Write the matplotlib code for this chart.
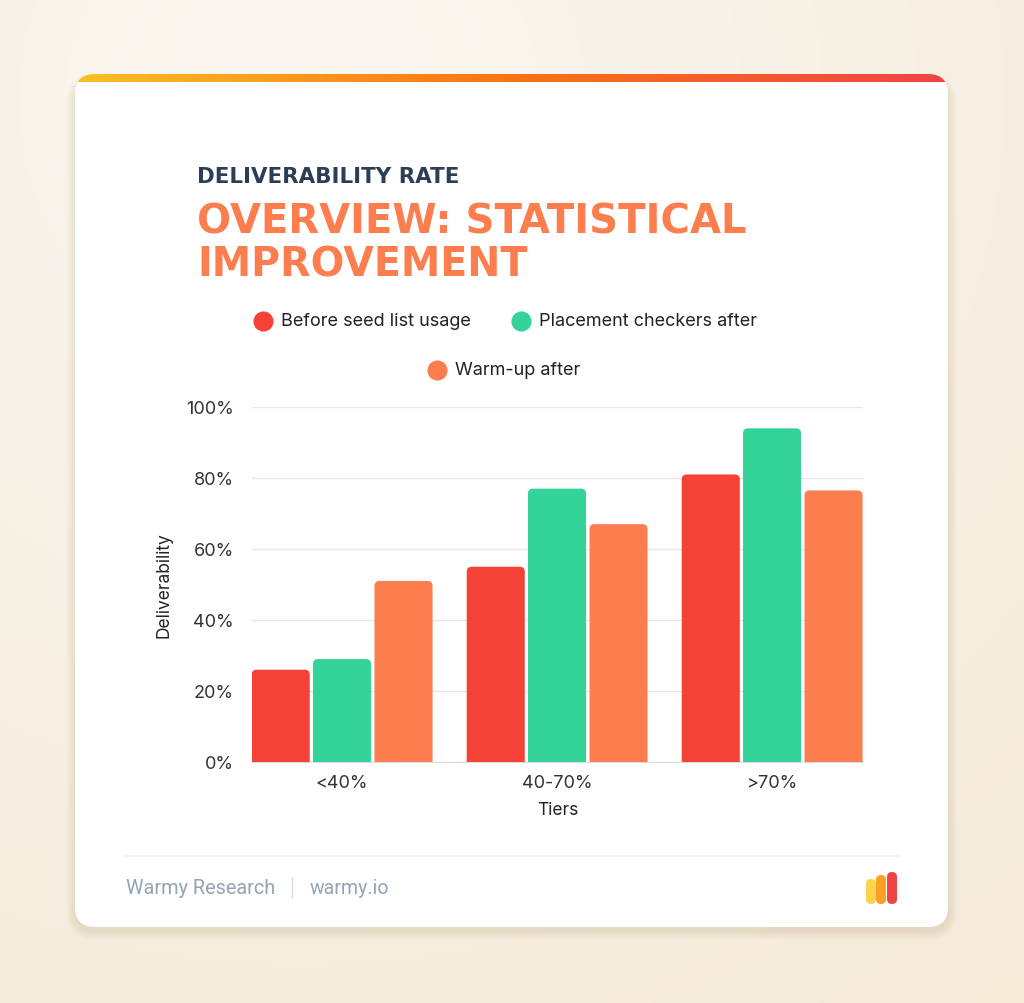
import numpy as np
import matplotlib
matplotlib.use("Agg")
import matplotlib.pyplot as plt
from matplotlib.patches import FancyBboxPatch, PathPatch
from matplotlib.path import Path

# data
tiers = ["<40%", "40-70%", ">70%"]
series_names = ["Before seed list usage", "Placement checkers after", "Warm-up after"]
before_seed = [26, 55, 81]
placement_after = [29, 77, 94]
warmup_after = [51, 67, 76.5]
series_values = [before_seed, placement_after, warmup_after]
series_colors = ["#F44336", "#34D399", "#FC7E4F"]
y_ticks = [0, 20, 40, 60, 80, 100]

W, H = 1024, 1004
fig = plt.figure(figsize=(W / 100, H / 100), dpi=100)

# background layer in pixel coordinates
bg = fig.add_axes([0, 0, 1, 1], zorder=0)
bg.set_xlim(0, W)
bg.set_ylim(H, 0)
bg.axis("off")

yy, xx = np.mgrid[0:H:4, 0:W:4]
d = np.sqrt(((xx - 300) / W) ** 2 + ((yy - 100) / H) ** 2)
t = np.clip(d / 1.2, 0, 1)
c0 = np.array([250, 247, 241]) / 255
c1 = np.array([245, 233, 215]) / 255
img = c0[None, None, :] * (1 - t[..., None]) + c1[None, None, :] * t[..., None]
bg.imshow(img, extent=(0, W, H, 0), aspect="auto", zorder=0)

# card shadow
for k in range(10):
    sh = FancyBboxPatch((75 - k, 80 - k + 4), 873 + 2 * k, 848 + 2 * k,
                        boxstyle="round,pad=0,rounding_size=%d" % (20 + k),
                        facecolor="#B89A6A", edgecolor="none", alpha=0.018, zorder=1)
    bg.add_patch(sh)

card = FancyBboxPatch((75, 75), 873, 853, boxstyle="round,pad=0,rounding_size=20",
                      facecolor="white", edgecolor="none", zorder=2)
bg.add_patch(card)

# gradient strip at top of card
grad = np.linspace(0, 1, 256)[None, :]
cm = matplotlib.colors.LinearSegmentedColormap.from_list("warm", ["#FBBF24", "#F97316", "#EF4444"])
strip = bg.imshow(grad, cmap=cm, extent=(75, 948, 83, 75), aspect="auto", zorder=3)
strip.set_clip_path(card)
bg.set_xlim(0, W)
bg.set_ylim(H, 0)

title_font = "DejaVu Sans"
body_font = ["Inter", "DejaVu Sans"]


def fit_text(x, y, s, width, **kw):
    txt = bg.text(x, y, s, **kw)
    r = fig.canvas.get_renderer()
    ext = txt.get_window_extent(r)
    txt.set_fontsize(txt.get_fontsize() * width / ext.width)
    return txt


fit_text(197, 183, "DELIVERABILITY RATE", 262, fontsize=18, fontweight="heavy",
         family=title_font, color="#2C3E55", va="baseline", ha="left", zorder=5)
fit_text(197, 233, "OVERVIEW: STATISTICAL", 550, fontsize=33, fontweight="heavy",
         family=title_font, color="#FC7E4F", va="baseline", ha="left", zorder=5)
fit_text(197, 277, "IMPROVEMENT", 332, fontsize=33, fontweight="heavy",
         family=title_font, color="#FC7E4F", va="baseline", ha="left", zorder=5)

# legend (manual, two rows centred)
legend_pos = [(263, 322), (521, 322), (437, 371)]
for (lx, ly), name, col in zip(legend_pos, series_names, series_colors):
    bg.plot(lx, ly, "o", ms=13.5, color=col, zorder=5)
    bg.text(lx + 18, ly, name, fontsize=13, family=body_font, color="#222222",
            va="center", ha="left", zorder=5)

# footer
foot_font = ["Roboto", "DejaVu Sans"]
bg.plot([126, 898], [857, 857], color="#EEF2F5", lw=1.2, zorder=5)
fit_text(126, 894, "Warmy Research", 150, fontsize=14, family=foot_font,
         color="#94A3B8", va="baseline", ha="left", zorder=5)
bg.plot([292, 292], [878, 898], color="#D5DCE4", lw=1, zorder=5)
fit_text(310, 894, "warmy.io", 80, fontsize=14, family=foot_font,
         color="#94A3B8", va="baseline", ha="left", zorder=5)
for x0, top, col in [(866, 880, "#FCD34D"), (876, 876, "#FBA024"), (887, 873, "#EF4444")]:
    bg.add_patch(FancyBboxPatch((x0, top), 10, 905 - top,
                                boxstyle="round,pad=0,rounding_size=5",
                                facecolor=col, edgecolor="none", zorder=5))

# main chart
ax = fig.add_axes([252 / W, 1 - 763 / H, 611 / W, 355 / H], zorder=2)
ax.patch.set_alpha(0)
x_lo, x_hi = -0.4186, 2.423
ax.set_xlim(x_lo, x_hi)
ax.set_ylim(0, 100)

x = np.arange(len(tiers))
offsets = [-0.285, 0.0, 0.286]
bar_w = 0.27

# corner radius of ~5 px in data units
rx = 5 * (x_hi - x_lo) / 611
ry = 5 * 100 / 355


def top_rounded_bar(left, width, height):
    r_y = min(ry, height)
    verts = [(left, 0), (left, height - r_y), (left, height), (left + rx, height),
             (left + width - rx, height), (left + width, height),
             (left + width, height - r_y), (left + width, 0), (left, 0)]
    codes = [Path.MOVETO, Path.LINETO, Path.CURVE3, Path.CURVE3, Path.LINETO,
             Path.CURVE3, Path.CURVE3, Path.LINETO, Path.CLOSEPOLY]
    return Path(verts, codes)


for vals, off, col in zip(series_values, offsets, series_colors):
    for xi, v in zip(x, vals):
        left = xi + off - bar_w / 2
        ax.add_patch(PathPatch(top_rounded_bar(left, bar_w, v), facecolor=col,
                               edgecolor="none", zorder=3))

ax.set_yticks(y_ticks)
ax.set_yticklabels([f"{v}%" for v in y_ticks])
ax.set_xticks(x)
ax.set_xticklabels(tiers)
ax.grid(axis="y", color="#E6E6E6", lw=1, zorder=0)
ax.set_axisbelow(True)
for s in ["top", "right", "left"]:
    ax.spines[s].set_visible(False)
ax.spines["bottom"].set_color("#DDDDDD")
ax.tick_params(axis="both", length=0, labelsize=13, labelcolor="#333333")
ax.tick_params(axis="y", pad=13)
ax.tick_params(axis="x", pad=9)
for lab in ax.get_xticklabels() + ax.get_yticklabels():
    lab.set_family(body_font)
ax.set_xlabel("Tiers", fontsize=12.5, family=body_font, color="#222222", labelpad=7)
ax.set_ylabel("Deliverability", fontsize=12.5, family=body_font, color="#222222", labelpad=10)

fig.savefig("out.png", dpi=100)
